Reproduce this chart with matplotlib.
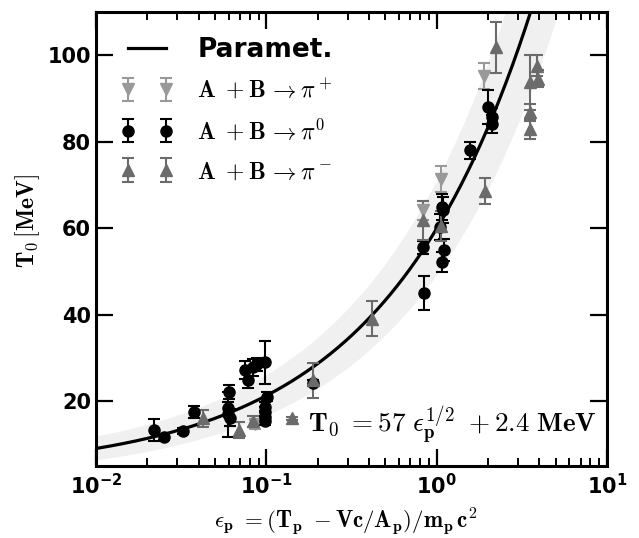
import numpy as np
import matplotlib
matplotlib.use("Agg")
import matplotlib.pyplot as plt
from matplotlib.ticker import FixedLocator, FixedFormatter, NullFormatter, LogLocator
from matplotlib.container import ErrorbarContainer
from matplotlib.legend_handler import HandlerErrorbar, HandlerLine2D
from matplotlib.lines import Line2D

plt.rcParams['mathtext.fontset'] = 'dejavusans'
plt.rcParams['font.family'] = ['DejaVu Sans']

# ---- data ----
# pi+ : light gray, down triangles
pip_x = [0.086, 0.835, 1.06, 1.90]
pip_y = [14.6, 64.1, 71.4, 95.3]
pip_e = [1.0, 2.3, 3.0, 3.0]

# pi0 : black circles
pi0_x = [0.0220, 0.0252, 0.0326, 0.0376, 0.0604, 0.0596, 0.0596, 0.0612,
         0.0750, 0.0778, 0.0839, 0.0879, 0.0983, 0.1005, 0.0983, 0.0983,
         0.0983, 0.0983, 0.188, 0.843, 0.835, 1.07, 1.09, 1.05, 1.11, 1.07,
         1.57, 2.01, 2.10, 2.10]
pi0_y = [13.3, 11.6, 13.1, 17.5, 22.1, 18.3, 17.0, 16.2,
         27.2, 25.0, 27.8, 28.5, 29.0, 21.0, 18.7, 17.6,
         16.4, 15.4, 24.2, 45.0, 55.6, 64.9, 64.1, 60.3, 54.9, 52.2,
         78.0, 88.0, 85.7, 84.1]
pi0_e = [2.5, 0.6, 0.7, 1.3, 1.7, 1.5, 5.2, 2.0,
         2.0, 2.0, 2.0, 1.5, 5.0, 1.0, 1.0, 1.0,
         1.0, 1.0, 0.7, 4.0, 1.5, 3.0, 3.0, 3.0, 2.5, 2.3,
         2.0, 4.0, 2.0, 2.0]

# pi- : gray, up triangles
pim_x = [0.0425, 0.0692, 0.083, 0.141, 0.189, 0.42, 0.835, 1.06, 1.92,
         2.23, 3.87, 3.96, 3.55, 3.53, 3.53]
pim_y = [16.0, 13.3, 15.3, 16.0, 24.8, 39.1, 61.8, 60.5, 68.7,
         101.8, 97.6, 94.6, 93.7, 86.8, 83.0]
pim_e = [2.0, 1.9, 1.3, 0.3, 4.0, 4.0, 4.5, 3.5, 3.0,
         6.0, 2.4, 2.0, 6.3, 2.0, 2.3]

# parametrisation T0 = a * eps^(1/2) + c
param_a = 56.5
param_c = 3.4
band_frac = 0.16
band_const = 1.3

x_ticks = [0.01, 0.1, 1, 10]
x_ticklabels = [r'$\mathbf{10^{-2}}$', r'$\mathbf{10^{-1}}$', r'$\mathbf{10^{0}}$', r'$\mathbf{10^{1}}$']
y_ticks = [20, 40, 60, 80, 100]

# ---- figure ----
fig = plt.figure(figsize=(6.39, 5.38), dpi=100)
ax = fig.add_axes([96/639, 1-466/538, (607-96)/639, (466-12)/538])

xx = np.logspace(-2, 1, 400)
tt = param_a * np.sqrt(xx) + param_c
dt = band_frac * tt + band_const
ax.fill_between(xx, tt - dt, tt + dt, color='#f0f0f0', lw=0, zorder=1)
line, = ax.plot(xx, tt, color='black', lw=2.3, zorder=3, label='Paramet.')

ekw = dict(capsize=4.5, capthick=1.5, elinewidth=1.5, ls='none', zorder=4)
h1 = ax.errorbar(pip_x, pip_y, yerr=pip_e, fmt='v', color='0.6', ms=8, mec='0.6',
                 label=r'$\mathbf{A}\ +\mathbf{B}\,\rightarrow\pi^+$', **ekw)
h2 = ax.errorbar(pi0_x, pi0_y, yerr=pi0_e, fmt='o', color='black', ms=8,
                 label=r'$\mathbf{A}\ +\mathbf{B}\,\rightarrow\pi^0$', **ekw)
h3 = ax.errorbar(pim_x, pim_y, yerr=pim_e, fmt='^', color='0.42', ms=8, mec='0.42',
                 label=r'$\mathbf{A}\ +\mathbf{B}\,\rightarrow\pi^-$', **ekw)

ax.set_xscale('log')
ax.set_xlim(0.01, 10)
ax.set_ylim(5, 110)

ax.xaxis.set_major_locator(FixedLocator(x_ticks))
ax.xaxis.set_major_formatter(FixedFormatter(x_ticklabels))
ax.xaxis.set_minor_locator(LogLocator(base=10, subs=np.arange(2, 10)))
ax.xaxis.set_minor_formatter(NullFormatter())
ax.set_yticks(y_ticks)
ax.set_yticklabels([str(v) for v in y_ticks])

ax.tick_params(which='both', direction='in', top=True, right=True)
ax.tick_params(which='major', length=12, width=1.6, labelsize=15)
ax.tick_params(axis='x', which='major', pad=5)
ax.tick_params(axis='y', which='major', pad=3.5)
ax.tick_params(which='minor', length=6, width=1.4)
for lab in ax.get_yticklabels():
    lab.set_fontweight('bold')
for sp in ax.spines.values():
    sp.set_linewidth(2.2)

ax.set_xlabel(r'$\epsilon_\mathbf{p}\ =(\mathbf{T_p}\ -\mathbf{Vc/A_p})/\mathbf{m_p\,c^2}$',
              fontsize=16.5, math_fontfamily='cm', labelpad=4)
ax.xaxis.set_label_coords(0.488, -0.088)
ax.set_ylabel(r'$\mathbf{T_0\,[MeV]}$', fontsize=17, math_fontfamily='cm')
ax.yaxis.set_label_coords(-0.106, 0.54)

ax.text(0.415, 0.073, r'$\mathbf{T_0}\ =57\ \epsilon_\mathbf{p}^{1/2}\ +2.4\ \mathbf{MeV}$',
        transform=ax.transAxes, fontsize=19.5, math_fontfamily='cm', ha='left', va='baseline', zorder=6)

hmap = {ErrorbarContainer: HandlerErrorbar(marker_pad=0.08, xerr_size=0.5),
        Line2D: HandlerLine2D(marker_pad=0.08)}
leg = ax.legend(handles=[line, h1, h2, h3], loc='upper left', numpoints=2, frameon=False,
                fontsize=17, handlelength=1.75, handletextpad=1.25, labelspacing=0.65,
                borderaxespad=0.8, bbox_to_anchor=(0.004, 1.008), handler_map=hmap)
texts = leg.get_texts()
texts[0].set_fontweight('bold')
texts[0].set_fontsize(19)
for t in texts[1:]:
    t.set_math_fontfamily('cm')

fig.savefig('out.png', dpi=100)
